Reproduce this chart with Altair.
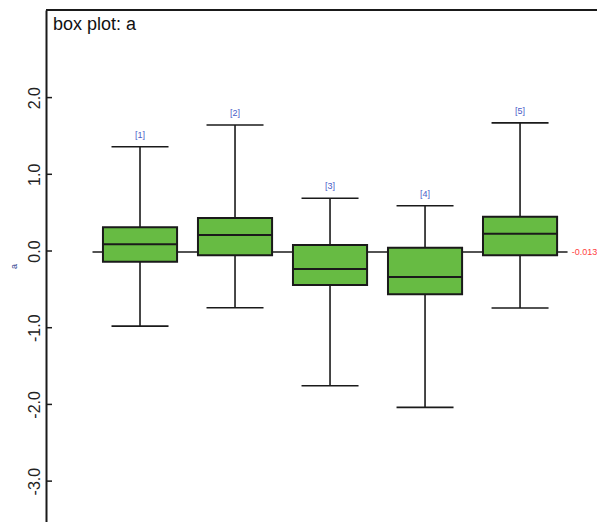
import altair as alt
import pandas as pd

# ---- data ----
groups = [1, 2, 3, 4, 5]
group_labels = ["[1]", "[2]", "[3]", "[4]", "[5]"]
lower_whisker = [-0.98, -0.74, -1.756, -2.038, -0.743]
q1 = [-0.139, -0.056, -0.443, -0.565, -0.056]
median = [0.087, 0.209, -0.235, -0.339, 0.226]
q3 = [0.309, 0.430, 0.078, 0.043, 0.447]
upper_whisker = [1.36, 1.643, 0.687, 0.590, 1.67]
overall_mean = -0.013
mean_label = "-0.013"
y_ticks = [-3, -2, -1, 0, 1, 2]
chart_title = "box plot: a"
y_title = "a"

# ---- layout / style ----
W, H = 551, 512
BOX_HALF = 0.39
CAP_HALF = 0.30
GREEN = "#67bb43"
INK = "#1a1a1a"

df = pd.DataFrame({
    "g": groups, "lab": group_labels, "lo": lower_whisker, "q1": q1,
    "med": median, "q3": q3, "hi": upper_whisker,
})

xs = alt.Scale(domain=[0.0105, 5.81], nice=False, zero=False)
ys = alt.Scale(domain=[-3.533, 3.142], nice=False, zero=False)
yaxis = alt.Axis(
    values=y_ticks,
    labelExpr="(datum.value < 0 ? '-' : '') + format(abs(datum.value), '.1f')",
    labelAngle=-90, labelAlign="center",
    labelBaseline="bottom", labelFontSize=16, labelColor="#222222",
    labelFont="Liberation Sans", labelPadding=4, tickSize=0, grid=False,
    domainColor=INK, domainWidth=2, title=y_title, titleFontSize=9,
    titleColor="#2f3f8f", titleFont="Liberation Sans", titleFontWeight="normal",
    titlePadding=8,
)


def X(f):
    return alt.X(f, type="quantitative", scale=xs, axis=None)


def Y(f):
    return alt.Y(f, type="quantitative", scale=ys, axis=yaxis)


base = alt.Chart(df).transform_calculate(
    bl="datum.g - %f" % BOX_HALF, br="datum.g + %f" % BOX_HALF,
    cl="datum.g - %f" % CAP_HALF, cr="datum.g + %f" % CAP_HALF,
)

mean_df = pd.DataFrame({"m": [overall_mean], "lab": [mean_label],
                        "gmin": [min(groups)], "gmax": [max(groups)]})
mean_base = alt.Chart(mean_df).transform_calculate(
    x1="datum.gmin - 0.5", x2="datum.gmax + 0.5", xt="datum.gmax + 0.545")

mean_line = mean_base.mark_rule(color=INK, strokeWidth=1.6).encode(
    x=X("x1"), x2="x2", y=Y("m"))
mean_text = mean_base.mark_text(
    align="left", baseline="middle", color="#ff4040", fontSize=9,
    font="Liberation Sans").encode(x=X("xt"), y=Y("m"), text="lab:N")

whisk = base.mark_rule(color=INK, strokeWidth=1.6).encode(
    x=X("g"), y=Y("lo"), y2="hi")
cap_hi = base.mark_rule(color=INK, strokeWidth=1.6).encode(
    x=X("cl"), x2="cr", y=Y("hi"))
cap_lo = base.mark_rule(color=INK, strokeWidth=1.6).encode(
    x=X("cl"), x2="cr", y=Y("lo"))
boxes = base.mark_rect(fill=GREEN, stroke=INK, strokeWidth=2).encode(
    x=X("bl"), x2="br", y=Y("q1"), y2="q3")
meds = base.mark_rule(color=INK, strokeWidth=2).encode(
    x=X("bl"), x2="br", y=Y("med"))
labels = base.mark_text(
    dy=-12, fontSize=9, color="#4a5cc8", font="Liberation Sans",
    baseline="middle").encode(x=X("g"), y=Y("hi"), text="lab:N")

tick_df = pd.DataFrame({"t": y_ticks})
ticks = alt.Chart(tick_df).mark_rule(color=INK, strokeWidth=1.5).encode(
    x=alt.value(0), x2=alt.value(6), y=Y("t"))

top_frame = alt.Chart(pd.DataFrame({"a": [0]})).mark_rule(
    color=INK, strokeWidth=2).encode(
    x=alt.value(0), x2=alt.value(W), y=alt.value(0))

title = alt.Chart(pd.DataFrame({"t": [chart_title]})).mark_text(
    align="left", baseline="middle", fontSize=18, color="#111111",
    font="Liberation Sans").encode(
    x=alt.value(7), y=alt.value(15), text="t:N")

chart = alt.layer(
    mean_line, whisk, cap_hi, cap_lo, boxes, meds, labels, mean_text,
    ticks, top_frame, title,
).properties(
    width=W, height=H,
    autosize=alt.AutoSizeParams(type="none"),
    padding={"left": 38, "top": 2, "right": 0, "bottom": 0},
    background="white",
).configure_view(stroke=None)

chart.save("out.html", embed_options={"renderer": "svg", "actions": False})
